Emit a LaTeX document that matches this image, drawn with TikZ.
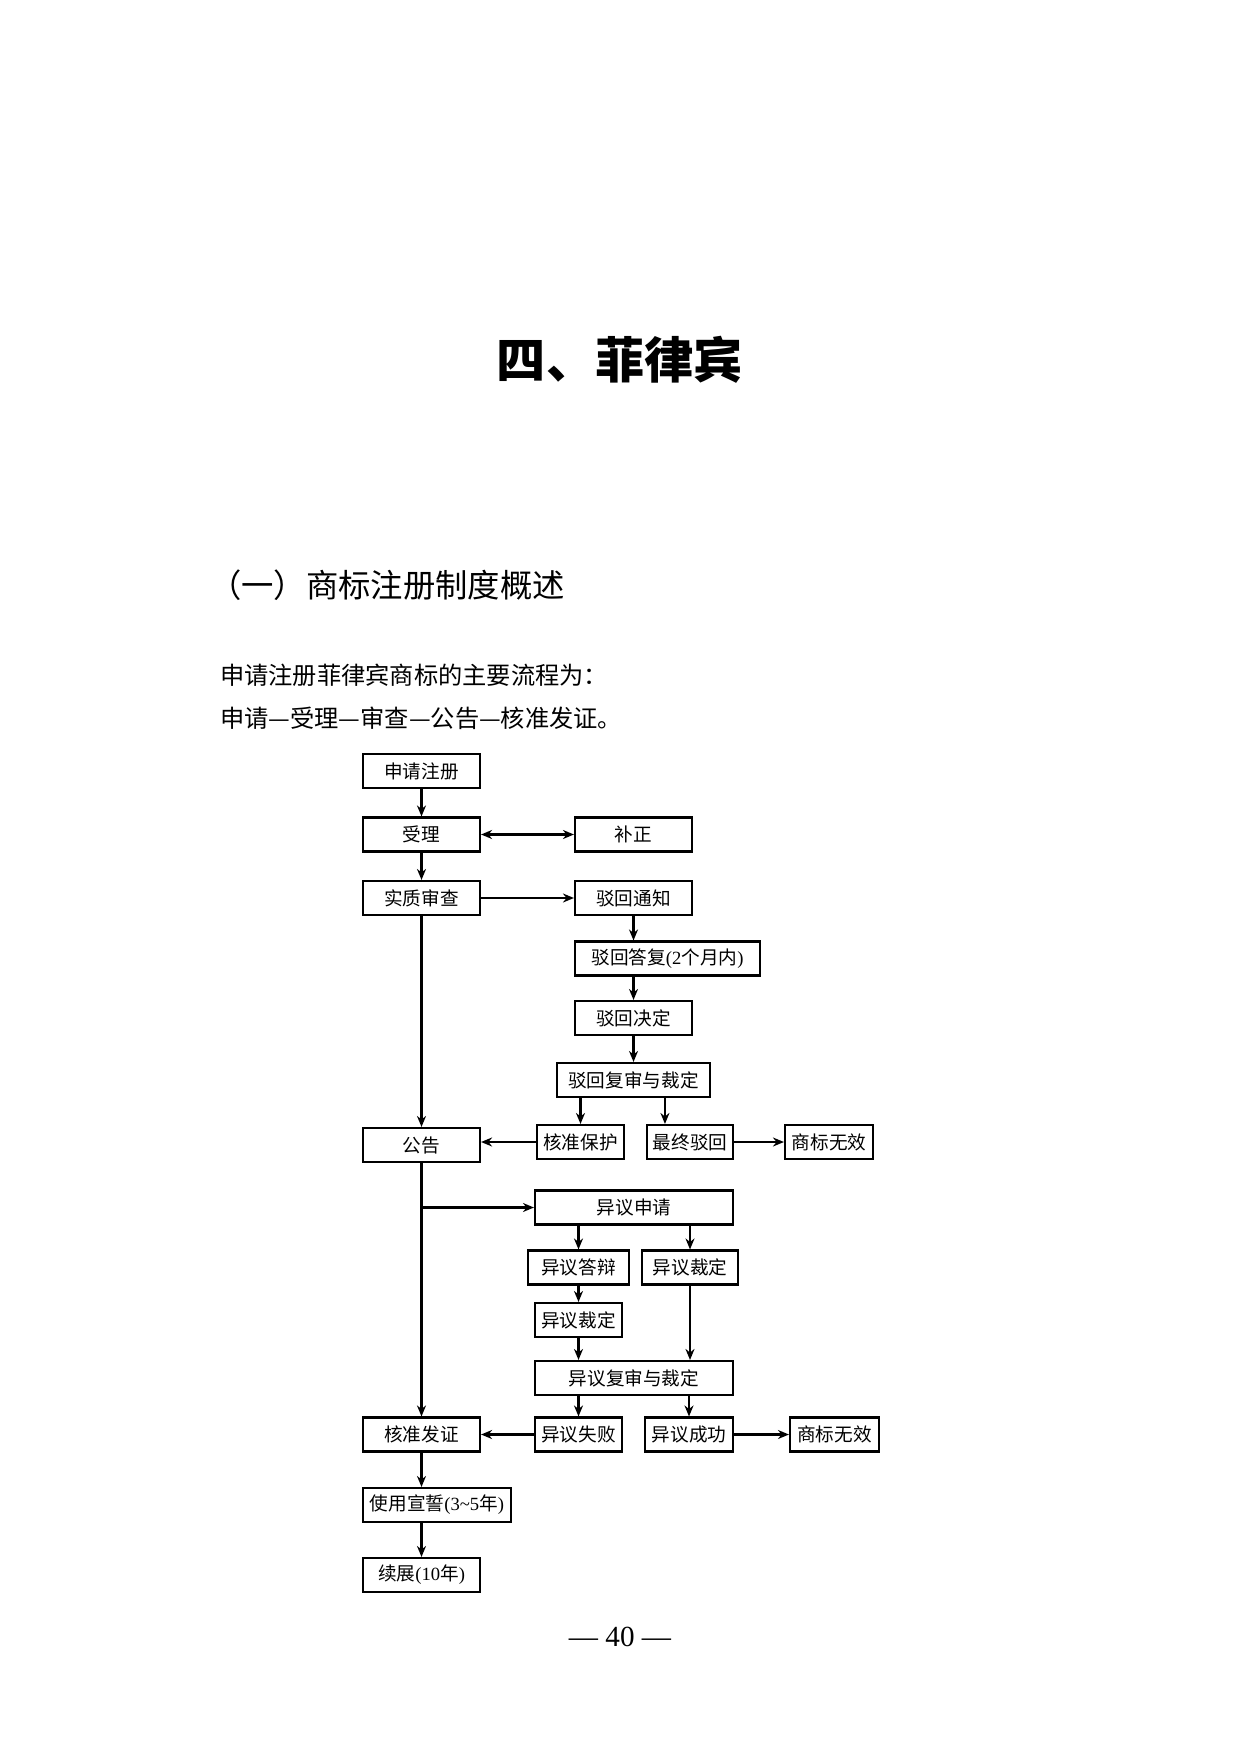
\documentclass[tikz,border=0pt]{standalone}
\usepackage{fontspec}
\setmainfont{Liberation Serif}
\newfontfamily\cjk{Noto Sans CJK SC}
\usetikzlibrary{arrows.meta}

\begin{document}
\begin{tikzpicture}[x=0.1mm, y=-0.1mm, >={Stealth[length=1.1mm,width=0.9mm]}, line width=0.7pt,
  box/.style={draw, line width=0.6pt, minimum width=#1, minimum height=3.4mm,
    inner xsep=0.5mm, inner ysep=0pt, font=\cjk\fontsize{5.3}{6}\selectfont},
  box/.default=11.7mm,
  txt/.style={anchor=west, inner sep=0pt}]
  \useasboundingbox (0,0) rectangle (1242,1746);
  % 标题与正文
  \node[font=\cjk\bfseries\fontsize{14}{16}\selectfont] (title) at (620,360) {四、菲律宾};
  \node[txt, font=\cjk\fontsize{9.2}{11}\selectfont] (sec) at (208,585) {（一）商标注册制度概述};
  \node[txt, font=\cjk\fontsize{6.9}{8}\selectfont] (p1) at (219,675) {申请注册菲律宾商标的主要流程为：};
  \node[txt, font=\cjk\fontsize{6.9}{8}\selectfont] (p2) at (219,718) {申请—受理—审查—公告—核准发证。};
  % 左列：主流程
  \node[box] (zc) at (421.5,771) {申请注册};
  \node[box] (sl) at (421.5,834.5) {受理};
  \node[box] (sc) at (421.5,898) {实质审查};
  \node[box] (gg) at (421.5,1145) {公告};
  \node[box] (hz) at (421.5,1434.5) {核准发证};
  \node[box=14.8mm] (sy) at (437,1505) {使用宣誓{\rmfamily(3\textasciitilde5}年{\rmfamily)}};
  \node[box] (xz) at (421.5,1575) {续展{\rmfamily(10}年{\rmfamily)}};
  % 驳回程序
  \node[box] (bz) at (633.5,834.5) {补正};
  \node[box] (bt) at (633.5,898) {驳回通知};
  \node[box=18.5mm] (bd) at (667.5,958.5) {驳回答复{\rmfamily(2}个月内{\rmfamily)}};
  \node[box] (bj) at (633.5,1018) {驳回决定};
  \node[box=15.3mm] (bf) at (633.5,1080) {驳回复审与裁定};
  \node[box=8.7mm] (hb) at (580.5,1142) {核准保护};
  \node[box=8.6mm] (zz) at (690,1142) {最终驳回};
  \node[box=8.8mm] (wx1) at (829,1142) {商标无效};
  % 异议程序
  \node[box=19.8mm] (ys) at (634,1207.5) {异议申请};
  \node[box=10.1mm] (yd) at (578.5,1267.5) {异议答辩};
  \node[box=9.6mm] (yc1) at (690,1267.5) {异议裁定};
  \node[box=8.7mm] (yc2) at (578.5,1320) {异议裁定};
  \node[box=19.8mm] (yf) at (634,1378) {异议复审与裁定};
  \node[box=8.7mm] (ysb) at (578.5,1434.5) {异议失败};
  \node[box=8.8mm] (ycg) at (689,1434.5) {异议成功};
  \node[box=8.9mm] (wx2) at (834.5,1434.5) {商标无效};
  % 页码
  \node[font=\fontsize{8.3}{9}\selectfont] (pg) at (620,1637) {— 40 —};

  % 连线
  \draw[->] (zc) -- (sl);
  \draw[<->] (sl) -- (bz);
  \draw[->] (sl) -- (sc);
  \draw[->] (sc) -- (bt);
  \draw[->] (bt.south) -- (bt.south |- bd.north);
  \draw[->] (bd.south -| bj.north) -- (bj.north);
  \draw[->] (bj) -- (bf);
  \draw[->] (bf.south -| hb.north) -- (hb.north);
  \coordinate (zzin) at ([xshift=1.9mm]zz.north west);
  \draw[->] (bf.south -| zzin) -- (zzin);
  \draw[->] (hb.west) -- (hb.west -| gg.east);
  \draw[->] (zz) -- (wx1);
  \draw[->] (sc) -- (gg);
  \draw[->] (gg) -- (hz);
  \draw[->] (gg.south |- ys.west) -- (ys.west);
  \draw[->] (ys.south -| yd.north) -- (yd.north);
  \draw[->] (ys.south -| yc1.north) -- (yc1.north);
  \draw[->] (yd) -- (yc2);
  \draw[->] (yc2.south) -- (yc2.south |- yf.north);
  \draw[->] (yc1.south) -- (yc1.south |- yf.north);
  \draw[->] (yf.south -| ysb.north) -- (ysb.north);
  \draw[->] (yf.south -| ycg.north) -- (ycg.north);
  \draw[->] (ysb.west) -- (ysb.west -| hz.east);
  \draw[->] (ycg) -- (wx2);
  \draw[->] (hz.south) -- (hz.south |- sy.north);
  \draw[->] (sy.south -| xz.north) -- (xz.north);
\end{tikzpicture}
\end{document}
